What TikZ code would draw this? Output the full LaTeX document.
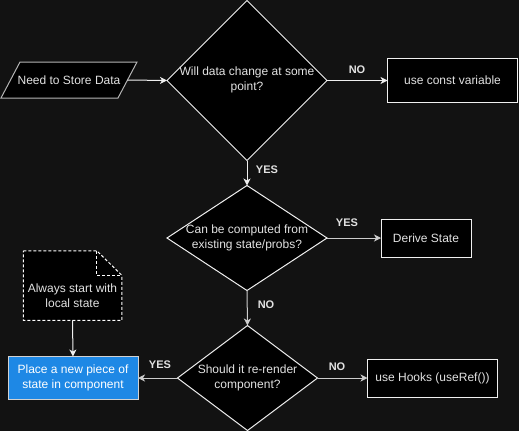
\documentclass[tikz,border=0pt]{standalone}
\usepackage{fontspec}
\setmainfont{Liberation Sans}
\usetikzlibrary{shapes.geometric,arrows.meta}
\definecolor{bgc}{RGB}{18,18,18}
\definecolor{txtc}{RGB}{226,226,226}
\definecolor{linec}{RGB}{240,240,240}
\definecolor{lnc2}{RGB}{205,205,205}
\definecolor{parac}{RGB}{180,180,180}
\definecolor{bluec}{RGB}{30,136,229}
\definecolor{blueb}{RGB}{210,210,210}
\tikzset{
  base/.style={inner sep=0pt, outer sep=0pt, font=\fontsize{12}{14.5}\selectfont, text=txtc, align=center},
  dia/.style={base, shape=diamond, draw=linec, fill=black, line width=1pt},
  boxn/.style={base, rectangle, draw=linec, fill=black, line width=1pt},
  bluebox/.style={base, rectangle, draw=blueb, fill=bluec, text=white, line width=1pt},
  txt/.style={base},
  lbl/.style={inner sep=0pt, font=\fontsize{11}{13}\selectfont\bfseries, text=txtc},
  conn/.style={line width=1pt, draw=linec, -{Stealth[length=7pt,width=7pt,inset=2pt]}},
  conn2/.style={line width=1pt, draw=lnc2, -{Stealth[length=7pt,width=7pt,inset=2pt]}},
}
\begin{document}
\begin{tikzpicture}[x=1pt,y=-1pt]
\fill[bgc] (0,0) rectangle (519,431);
\useasboundingbox (0,0) rectangle (519,431);

% input parallelogram
\node[txt, minimum width=117, minimum height=36] (in) at (69,80) {};
\filldraw[fill=black, draw=parac, line width=1pt]
  ([xshift=9.5pt]in.north west) -- ([xshift=9.5pt]in.north east)
  -- ([xshift=-9.5pt]in.south east) -- ([xshift=-9.5pt]in.south west) -- cycle;
\node[txt] (intext) at (in.center) {Need to Store Data};

% decision 1
\node[dia, minimum width=160, minimum height=160] (d1) at (247,80.5) {};
\node[txt] (d1t) at (247,80) {Will data change at some\\point?};

% const box
\node[boxn, minimum width=130, minimum height=44] (const) at (452.5,80.5) {use const variable};

% decision 2
\node[dia, minimum width=160, minimum height=105] (d2) at (247,238) {};
\node[txt] (d2t) at (247,238) {Can be computed from\\existing state/probs?};

% derive
\node[boxn, minimum width=90, minimum height=38] (derive) at (426,238) {Derive State};

% decision 3
\node[dia, minimum width=140, minimum height=105] (d3) at (247.5,378) {};
\node[txt] (d3t) at (247.5,378) {Should it re-render\\component?};

% hooks
\node[boxn, minimum width=130, minimum height=38] (hooks) at (432.5,378) {use Hooks (useRef())};

% blue box
\node[bluebox, minimum width=130, minimum height=43] (place) at (73,378) {Place a new piece of\\state in component};

% note
\node[txt, minimum width=98.5, minimum height=69.5] (note) at (72.5,285.5) {};
\filldraw[fill=black, draw=white, line width=1pt, dash pattern=on 3pt off 2pt]
  (note.north west) -- ([xshift=-25pt]note.north east)
  -- ([yshift=-24.5pt]note.north east) -- (note.south east)
  -- (note.south west) -- cycle;
\draw[white, line width=1pt, dash pattern=on 3pt off 2pt]
  ([xshift=-25pt]note.north east) -- ([xshift=-25pt,yshift=-24.5pt]note.north east)
  -- ([yshift=-24.5pt]note.north east);
\node[txt] (notet) at (72.5,295.5) {Always start with\\local state};

% connectors
\draw[conn] (in.east) -- (d1.west);
\draw[conn] (d1.east) -- (const.west);
\draw[conn] (d1.south) -- (d2.north);
\draw[conn2] (d2.east) -- (derive.west);
\draw[conn2] (d2.south) -- (d3.north);
\draw[conn2] (d3.east) -- (hooks.west);
\draw[conn2] (d3.west) -- (place.east);
\draw[conn] (note.south) -- (place.north);

% labels
\node[lbl] (l1) at (357,70) {NO};
\node[lbl] (l2) at (267,170) {YES};
\node[lbl] (l3) at (347,222.5) {YES};
\node[lbl] (l4) at (266,305) {NO};
\node[lbl] (l5) at (337,367) {NO};
\node[lbl] (l6) at (160,364.5) {YES};
\end{tikzpicture}
\end{document}
